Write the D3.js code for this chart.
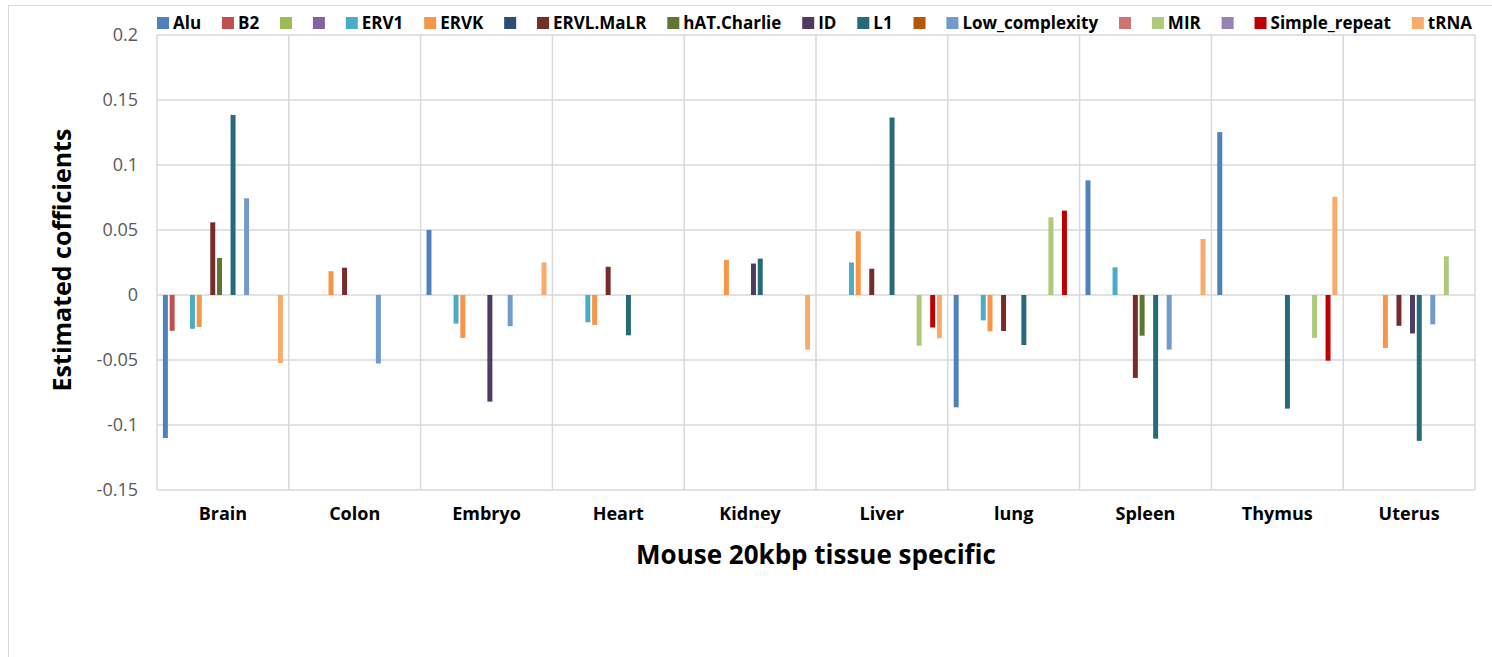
<!DOCTYPE html>
<html>
<head>
<meta charset="utf-8">
<script src="https://cdn.jsdelivr.net/npm/d3@7"></script>
<style>
  body { margin: 0; background: #fff; }
  text { font-family: "Open Sans", "Liberation Sans", sans-serif; }
</style>
</head>
<body>
<svg id="chart"></svg>
<script>
// Tissues on the x axis
const tissues = ["Brain", "Colon", "Embryo", "Heart", "Kidney", "Liver", "lung", "Spleen", "Thymus", "Uterus"];

// Repeat families (legend order); blank names are unnamed series in the source
const families = ["Alu", "B2", "", " ", "ERV1", "ERVK", "  ", "ERVL.MaLR", "hAT.Charlie", "ID", "L1", "   ",
                  "Low_complexity", "    ", "MIR", "     ", "Simple_repeat", "tRNA"];

const familyColors = ["#4F81BD", "#C0504D", "#9BBB59", "#8064A2", "#4BACC6", "#F79646", "#2C4D75", "#772C2A",
                      "#5F7530", "#4D3B62", "#276A7C", "#B65708", "#729ACA", "#CD7371", "#AFC97A", "#9983B5",
                      "#C00000", "#F9AB6B"];

// Estimated coefficients per tissue, one entry per family (0 = no bar)
const brain  = [-0.110, -0.0275, 0, 0, -0.026, -0.0246, 0, 0.0559, 0.0285, 0, 0.1385, 0, 0.0744, 0, 0, 0, 0, -0.0523];
const colon  = [0, 0, 0, 0, 0, 0.0183, 0, 0.021, 0, 0, 0, 0, -0.0527, 0, 0, 0, 0, 0];
const embryo = [0.050, 0, 0, 0, -0.022, -0.033, 0, 0, 0, -0.082, 0, 0, -0.024, 0, 0, 0, 0, 0.0251];
const heart  = [0, 0, 0, 0, -0.021, -0.023, 0, 0.0217, 0, 0, -0.031, 0, 0, 0, 0, 0, 0, 0];
const kidney = [0, 0, 0, 0, 0, 0.027, 0, 0, 0, 0.0242, 0.028, 0, 0, 0, 0, 0, 0, -0.042];
const liver  = [0, 0, 0, 0, 0.025, 0.049, 0, 0.0202, 0, 0, 0.1365, 0, 0, 0, -0.039, 0, -0.025, -0.0333];
const lung   = [-0.0864, 0, 0, 0, -0.0195, -0.028, 0, -0.0277, 0, 0, -0.0385, 0, 0, 0, 0.0598, 0, 0.0649, 0];
const spleen = [0.0882, 0, 0, 0, 0.0213, 0, 0, -0.0638, -0.0313, 0, -0.1105, 0, -0.042, 0, 0, 0, 0, 0.0431];
const thymus = [0.1253, 0, 0, 0, 0, 0, 0, 0, 0, 0, -0.0874, 0, 0, 0, -0.033, 0, -0.0505, 0.0756];
const uterus = [0, 0, 0, 0, 0, -0.0408, 0, -0.0237, 0, -0.0296, -0.1122, 0, -0.0226, 0, 0.0298, 0, 0, 0];

const yTicks = [-0.15, -0.1, -0.05, 0, 0.05, 0.1, 0.15, 0.2];

const tissueValues = [brain, colon, embryo, heart, kidney, liver, lung, spleen, thymus, uterus];

var dimensions = {
    width: 1492,
    height: 657,
    margins: { top: 35, right: 17, bottom: 167, left: 157 }
};
var innerW = dimensions.width - dimensions.margins.left - dimensions.margins.right;
var innerH = dimensions.height - dimensions.margins.top - dimensions.margins.bottom;

var svgRoot = d3.select("#chart")
    .attr("width", dimensions.width)
    .attr("height", dimensions.height);

// outer chart border
svgRoot.append("rect")
    .attr("x", 8.5).attr("y", 5.5)
    .attr("width", dimensions.width + 10).attr("height", dimensions.height + 10)
    .attr("fill", "none").attr("stroke", "#d9d9d9").attr("stroke-width", 1);

var svg = svgRoot.append("g")
    .attr("transform", "translate(" + dimensions.margins.left + "," + dimensions.margins.top + ")");

// scales
var x0 = d3.scaleBand().domain(tissues).range([0, innerW]);
var x1 = d3.scaleBand().domain(d3.range(families.length))
    .range([5, x0.bandwidth() - 5]);
var yScale = d3.scaleLinear().domain([-0.15, 0.2]).range([innerH, 0]);

// horizontal gridlines
svg.append("g")
    .selectAll("line")
    .data(yTicks)
    .enter()
    .append("line")
    .attr("x1", 0).attr("x2", innerW)
    .attr("y1", d => yScale(d)).attr("y2", d => yScale(d))
    .attr("stroke", "#d9d9d9").attr("stroke-width", 1.5);

// vertical gridlines at category boundaries
svg.append("g")
    .selectAll("line")
    .data(tissues.concat(["end"]))
    .enter()
    .append("line")
    .attr("x1", (d, i) => i * x0.bandwidth()).attr("x2", (d, i) => i * x0.bandwidth())
    .attr("y1", 0).attr("y2", innerH)
    .attr("stroke", "#d9d9d9").attr("stroke-width", 1.5);

// y-axis tick labels (plain hyphen minus like the source)
svg.append("g")
    .selectAll("text")
    .data(yTicks)
    .enter()
    .append("text")
    .attr("x", -19)
    .attr("y", d => yScale(d))
    .attr("dy", "0.35em")
    .attr("text-anchor", "end")
    .style("font-size", "18px")
    .attr("fill", "#595959")
    .text(d => String(+d.toFixed(2)));

// bars
var groups = svg.selectAll(".tissue")
    .data(tissues)
    .enter()
    .append("g")
    .attr("class", "tissue")
    .attr("transform", d => "translate(" + x0(d) + ",0)");

groups.selectAll("rect")
    .data((d, i) => tissueValues[i].map((v, j) => ({ j: j, v: v })).filter(e => e.v !== 0))
    .enter()
    .append("rect")
    .attr("x", d => x1(d.j) + 0.9)
    .attr("width", x1.bandwidth() - 1.8)
    .attr("y", d => yScale(Math.max(0, d.v)))
    .attr("height", d => Math.abs(yScale(d.v) - yScale(0)))
    .attr("fill", d => familyColors[d.j]);

// x-axis category labels
svg.append("g")
    .selectAll("text")
    .data(tissues)
    .enter()
    .append("text")
    .attr("x", d => x0(d) + x0.bandwidth() / 2)
    .attr("y", innerH + 30)
    .attr("text-anchor", "middle")
    .style("font-size", "18px")
    .style("font-weight", "bold")
    .attr("fill", "#000")
    .text(d => d);

// x-axis title
svg.append("text")
    .attr("x", innerW / 2)
    .attr("y", innerH + 74)
    .attr("text-anchor", "middle")
    .style("font-size", "26px")
    .style("font-weight", "bold")
    .text("Mouse 20kbp tissue specific");

// y-axis title
svg.append("text")
    .attr("transform", "rotate(-90)")
    .attr("x", -(yScale(0) - 35))
    .attr("y", -86)
    .attr("text-anchor", "middle")
    .style("font-size", "25px")
    .style("font-weight", "bold")
    .text("Estimated cofficients");

// legend, spread across the plot width like the source
var legend = svgRoot.append("g").attr("class", "legend");
var items = legend.selectAll("g")
    .data(families)
    .enter()
    .append("g");
items.append("rect")
    .attr("width", 12).attr("height", 12)
    .attr("y", 17)
    .attr("fill", (d, i) => familyColors[i]);
items.append("text")
    .attr("x", 16)
    .attr("y", 29)
    .style("font-size", "17px")
    .style("font-weight", "bold")
    .text(d => d.trim());

var widths = [];
items.each(function(d) {
    widths.push(12 + (d.trim() ? this.querySelector("text").getComputedTextLength() + 4 : 0));
});
var legendStart = 157, legendEnd = 1472;
var gap = (legendEnd - legendStart - d3.sum(widths)) / (widths.length - 1);
var cursor = legendStart;
items.each(function(d, i) {
    d3.select(this).attr("transform", "translate(" + cursor + ",0)");
    cursor += widths[i] + gap;
});
</script>
</body>
</html>
